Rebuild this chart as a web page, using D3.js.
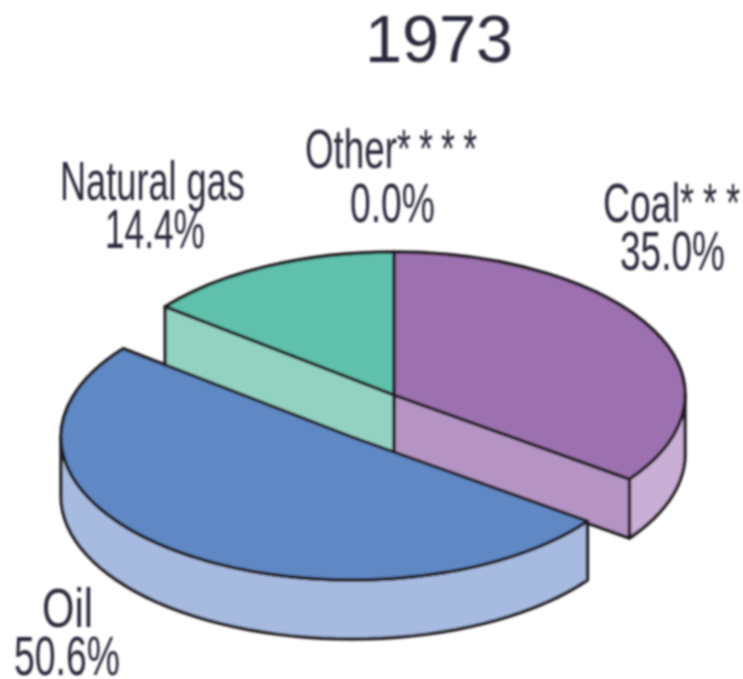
<!DOCTYPE html>
<html><head><meta charset="utf-8">
<script src="https://cdnjs.cloudflare.com/ajax/libs/d3/7.8.5/d3.min.js"></script>
<style>html,body{margin:0;padding:0;background:#fff}svg{display:block}</style>
</head><body><svg id="c" width="743" height="679"></svg>
<script>
const title = "1973";
const categories = ["Coal","Oil","Natural gas","Other"];
const footnotes = ["***","","","****"];
const values = [35.0,50.6,14.4,0.0];

const topColors  = ["#9d71b0","#5f88c4","#5fc1ac","#5fc1ac"];
const faceColors = ["#b594c4","#a7bbe1","#93d2c1","#93d2c1"];
const wallColors = ["#c9aed6","#a7bbe1","#93d2c1","#93d2c1"];
const ink = "#231f20", textInk = "#2c2c3c";
const RX = 291, RY = 143, DEPTH = 59;
const CENTER = {x:394,y:395}, EXPLODED = {x:352,y:437};

const svg = d3.select("#c");
const defs = svg.append("defs");
defs.append("filter").attr("id","soft").attr("x","-5%").attr("y","-5%").attr("width","110%").attr("height","110%")
  .append("feGaussianBlur").attr("stdDeviation",0.8);
const root = svg.append("g").attr("filter","url(#soft)");

const arcs = d3.pie().sort(null).startAngle(0).endAngle(2*Math.PI).value(d=>d)(values);
const arcGen = d3.arc().innerRadius(0).outerRadius(RX);
const px = (c,a)=>c.x+RX*Math.sin(a), py = (c,a)=>c.y-RY*Math.cos(a);
const SW = 3.4;

function rim(c,a0,a1,dy){
  const n=48;
  return d3.range(n+1).map(i=>{const a=a0+(a1-a0)*i/n;return [px(c,a),py(c,a)+dy];});
}
const pathLine = d3.line();
function wall(c,a0,a1,fill){
  const p = rim(c,a0,a1,0).concat(rim(c,a1,a0,DEPTH));
  root.append("path").attr("d",pathLine(p)+"Z").attr("fill",fill).attr("stroke",ink).attr("stroke-width",SW).attr("stroke-linejoin","round");
}
function cutFace(c,a,fill){
  const p=[[c.x,c.y],[px(c,a),py(c,a)],[px(c,a),py(c,a)+DEPTH],[c.x,c.y+DEPTH]];
  root.append("path").attr("d",pathLine(p)+"Z").attr("fill",fill).attr("stroke",ink).attr("stroke-width",SW).attr("stroke-linejoin","round");
}
function topFace(c,d,fill){
  root.append("path").attr("transform",`translate(${c.x},${c.y}) scale(1,${RY/RX})`)
    .attr("d",arcGen(d)).attr("fill",fill).attr("stroke",ink).attr("stroke-width",SW)
    .attr("vector-effect","non-scaling-stroke").attr("stroke-linejoin","round");
}
const [coal,oil,gas] = arcs;
wall(CENTER,Math.PI/2,coal.endAngle,wallColors[0]);
cutFace(CENTER,coal.endAngle,faceColors[0]);
cutFace(CENTER,gas.startAngle,faceColors[2]);
topFace(CENTER,coal,topColors[0]);
topFace(CENTER,gas,topColors[2]);
wall(EXPLODED,oil.startAngle,3*Math.PI/2,wallColors[1]);
topFace(EXPLODED,oil,topColors[1]);

const FONT = "'Liberation Sans Narrow','Liberation Sans',sans-serif";
const labelBoxes = [
  {name:[603,222,77],stars:60,val:[620,270,105]},
  {name:[42,627,51],stars:0,val:[14,675,106]},
  {name:[60,200,185],stars:0,val:[105,248,100]},
  {name:[305,168,92],stars:80,val:[350,222,85]}
];
// One line of text, squeezed horizontally to the width it has in the reference.
function fitted(str,[x,y,width],size,stars,starWidth){
  const t = root.append("text").attr("font-family",FONT).attr("fill",textInk).attr("font-size",size);
  const main = t.append("tspan").text(str);
  const sx = width/main.node().getComputedTextLength();
  if(stars){
    const s = t.append("tspan").attr("font-size",54).attr("dy",-1).text(stars);
    const gap = (starWidth/sx - s.node().getComputedTextLength())/(stars.length-1);
    s.attr("dx",Array.from(stars,(_,k)=>k?gap:0).join(" "));
  }
  t.attr("transform",`translate(${x},${y}) scale(${sx},1)`);
}
categories.forEach((c,i)=>{
  const b = labelBoxes[i];
  fitted(c,b.name,56,footnotes[i],b.stars);
  fitted(values[i].toFixed(1)+"%",b.val,56);
});
fitted(title,[365,62,148],66);
</script></body></html>
